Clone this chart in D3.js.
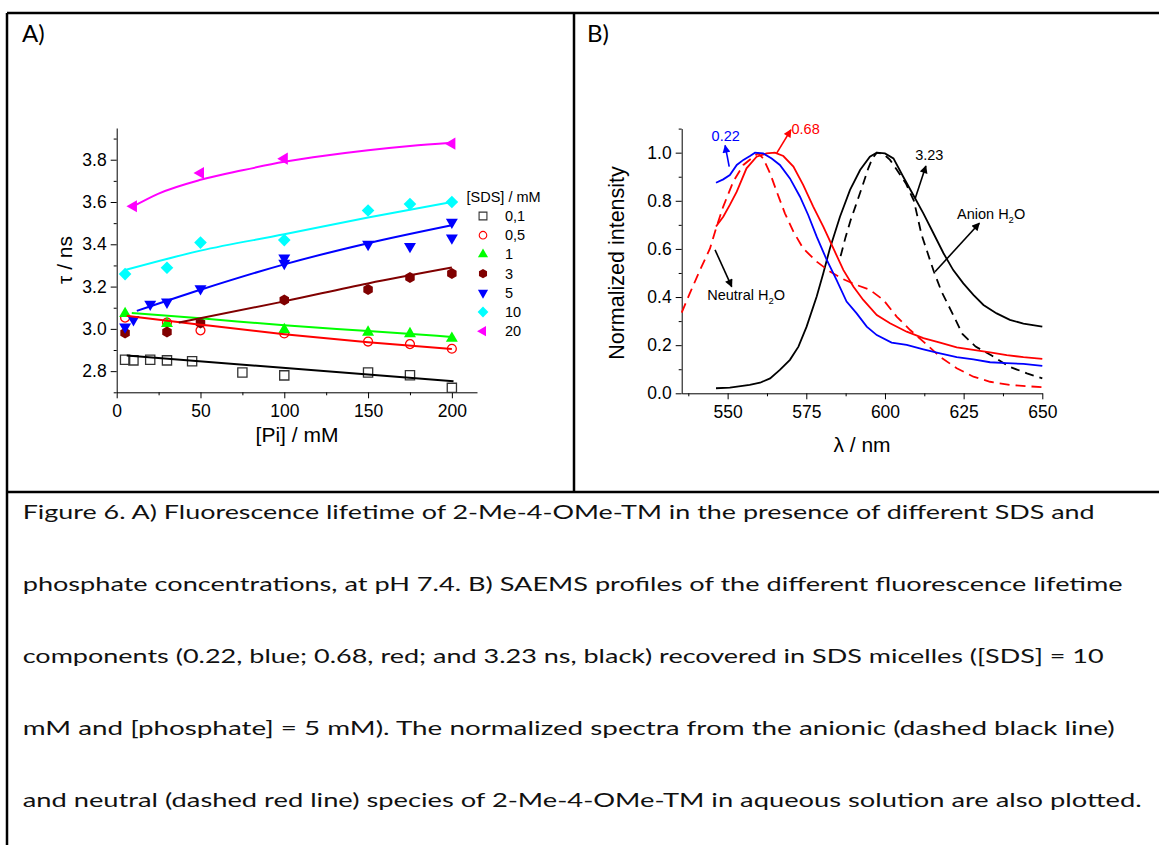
<!DOCTYPE html>
<html>
<head>
<meta charset="utf-8">
<script src="https://cdn.jsdelivr.net/npm/d3@7/dist/d3.min.js"></script>
<style>
  body { margin: 0; background: #fff; }
  svg { display: block; }
</style>
</head>
<body>
<svg id="fig" width="1159" height="845"></svg>
<script>
// ---------- panel A : lifetime vs [Pi] ----------
const sdsLabels = ["0,1", "0,5", "1", "3", "5", "10", "20"];

const pi01 = [5, 10, 20, 30, 45, 75, 100, 150, 175, 200];
const tau01 = [2.854, 2.851, 2.854, 2.851, 2.847, 2.794, 2.780, 2.794, 2.781, 2.721];
const pi05 = [5, 30, 50, 100, 150, 175, 200];
const tau05 = [3.053, 3.03, 2.993, 2.978, 2.94, 2.928, 2.906];
const pi1 = [5, 30, 100, 150, 175, 200];
const tau1 = [3.072, 3.025, 2.996, 2.984, 2.977, 2.955];
const pi3 = [5, 30, 50, 100, 150, 175, 200];
const tau3 = [2.98, 2.985, 3.028, 3.137, 3.186, 3.243, 3.262];
const pi5 = [5, 10, 20, 30, 50, 100, 100, 150, 175, 200, 200];
const tau5 = [3.009, 3.044, 3.117, 3.127, 3.19, 3.335, 3.31, 3.40, 3.39, 3.505, 3.43];
const pi10 = [5, 30, 50, 100, 150, 175, 200];
const tau10 = [3.259, 3.289, 3.408, 3.42, 3.56, 3.59, 3.60];
const pi20 = [10, 50, 100, 200];
const tau20 = [3.58, 3.737, 3.805, 3.876];

// fitted curves
const fit01 = [[6, 2.874], [201, 2.752]];
const fit05 = [[6, 3.062], [50, 3.02], [100, 2.975], [150, 2.937], [200, 2.905]];
const fit1 = [[9, 3.075], [50, 3.05], [100, 3.017], [150, 2.99], [200, 2.962]];
const fit3 = [[37, 3.03], [100, 3.13], [150, 3.215], [200, 3.29]];
const fit5 = [[12, 3.085], [50, 3.185], [100, 3.305], [150, 3.405], [200, 3.49]];
const fit10 = [[5, 3.278], [50, 3.37], [100, 3.447], [150, 3.527], [200, 3.60]];
const fit20 = [[10, 3.58], [25, 3.64], [50, 3.705], [75, 3.75], [100, 3.79], [125, 3.82], [150, 3.845], [175, 3.865], [200, 3.88]];

const piTicks = [0, 50, 100, 150, 200];
const piMinor = [25, 75, 125, 175];
const tauTicks = [2.8, 3.0, 3.2, 3.4, 3.6, 3.8];
const tauMinor = [2.7, 2.9, 3.1, 3.3, 3.5, 3.7, 3.9];

// ---------- panel B : SAEMS spectra ----------
const spec022 = [[546.3, 0.875], [548.6, 0.889], [550.7, 0.907], [552.9, 0.949], [555, 0.97], [557.1, 0.986], [558.7, 1.0],
  [561.3, 0.997], [564, 0.976], [566.6, 0.949], [569.8, 0.893], [573, 0.817], [575.6, 0.741], [578.3, 0.651],
  [581.5, 0.554], [584.6, 0.471], [587.8, 0.381], [591, 0.332], [594.2, 0.277], [597.4, 0.242], [602.1, 0.211],
  [606.9, 0.201], [612.2, 0.183], [617.5, 0.166], [622.8, 0.15], [628.1, 0.141], [633.4, 0.129], [638.7, 0.125],
  [644, 0.122], [650, 0.114]];
const spec068 = [[546.3, 0.693], [548.6, 0.734], [550.7, 0.783], [552.9, 0.838], [556, 0.935], [559.2, 0.983], [562.4, 0.997],
  [565, 1.0], [567.7, 0.986], [570.9, 0.942], [574, 0.866], [577.2, 0.776], [580.4, 0.693], [583.6, 0.602],
  [586.8, 0.512], [590, 0.443], [593.1, 0.388], [597.4, 0.325], [601.6, 0.291], [606.9, 0.256], [612.2, 0.229],
  [617.5, 0.211], [622.8, 0.191], [628.1, 0.18], [633.4, 0.17], [638.7, 0.159], [644, 0.15], [650, 0.143]];
const spec323 = [[546.3, 0.021], [550.7, 0.024], [557, 0.035], [560.3, 0.044], [563.5, 0.062], [566.6, 0.097], [569.8, 0.139],
  [572.5, 0.194], [575.1, 0.277], [578.3, 0.402], [580.4, 0.499], [582.5, 0.602], [585.7, 0.734], [588.9, 0.845],
  [592.1, 0.928], [595.2, 0.983], [597.4, 1.0], [600, 0.997], [602.7, 0.976], [605.8, 0.9], [609, 0.824],
  [612.2, 0.748], [615.4, 0.665], [618.6, 0.582], [621.7, 0.512], [624.9, 0.457], [628.1, 0.409], [631.3, 0.367],
  [635.5, 0.332], [639.7, 0.305], [644, 0.29], [650, 0.277]];
const specAnion = [[585.9, 0.57], [587.5, 0.65], [589.1, 0.72], [590.7, 0.78], [592.8, 0.86], [594.7, 0.935], [596, 0.976],
  [597.4, 1.0], [599.5, 0.995], [601.6, 0.97], [603.7, 0.93], [606.6, 0.873], [609.2, 0.80], [611.6, 0.66],
  [615.5, 0.507], [618, 0.422], [621.7, 0.325], [624.6, 0.247], [628.8, 0.194], [633.9, 0.157], [639.5, 0.111],
  [645.1, 0.083], [650, 0.062]];
const specNeutral = [[535.4, 0.335], [538, 0.416], [541.2, 0.512], [544.4, 0.602], [546.5, 0.693], [548.6, 0.776],
  [551.8, 0.88], [555, 0.949], [558.2, 0.983], [559.7, 0.997], [561.3, 0.976], [563.5, 0.914], [565.6, 0.838],
  [568.2, 0.748], [570.9, 0.672], [574, 0.602], [578.3, 0.547], [582.5, 0.506], [586.8, 0.474], [591, 0.45],
  [595.2, 0.43], [599.5, 0.388], [603.7, 0.319], [608, 0.263], [612.2, 0.215], [617.5, 0.152], [622.8, 0.104],
  [628.1, 0.069], [633.4, 0.048], [639.7, 0.035], [650, 0.025]];

const wlTicks = [550, 575, 600, 625, 650];
const wlMinor = [537.5, 562.5, 587.5, 612.5, 637.5];
const intTicks = [0, 0.2, 0.4, 0.6, 0.8, 1.0];
const intMinor = [0.1, 0.3, 0.5, 0.7, 0.9, 1.1];

const captionLines = [
  "Figure 6. A) Fluorescence lifetime of 2-Me-4-OMe-TM in the presence of different SDS and",
  "phosphate concentrations, at pH 7.4. B) SAEMS profiles of the different fluorescence lifetime",
  "components (0.22, blue; 0.68, red; and 3.23 ns, black) recovered in SDS micelles ([SDS] = 10",
  "mM and [phosphate] = 5 mM). The normalized spectra from the anionic (dashed black line)",
  "and neutral (dashed red line) species of 2-Me-4-OMe-TM in aqueous solution are also plotted."
];
const captionWidths = [1072, 1100, 1081, 1092, 1119];

// ---------------------------------------------
const svg = d3.select("#fig");
const axisFont = "'Liberation Sans', Arial, sans-serif";
const textFont = "Lato, 'Open Sans', sans-serif";

// frame of the table
const frame = svg.append("g").attr("stroke", "#000").attr("stroke-width", 2.5);
frame.append("line").attr("x1", 7).attr("x2", 1159).attr("y1", 13).attr("y2", 13);
frame.append("line").attr("x1", 7).attr("x2", 7).attr("y1", 13).attr("y2", 845);
frame.append("line").attr("x1", 574).attr("x2", 574).attr("y1", 13).attr("y2", 492);
frame.append("line").attr("x1", 7).attr("x2", 1159).attr("y1", 492).attr("y2", 492);

svg.append("text").attr("x", 22).attr("y", 42).attr("font-family", textFont).attr("font-size", 24).text("A)");
svg.append("text").attr("x", 587).attr("y", 42).attr("font-family", textFont).attr("font-size", 24).text("B)");

const drawAxes = (x, y, xt, xm, yt, ym, yFmt) => {
  const bottom = y.range()[0], left = x.range()[0];
  svg.append("g").attr("transform", `translate(0,${bottom})`)
    .call(d3.axisBottom(x).tickValues(xm).tickSize(3).tickFormat("").tickSizeOuter(0))
    .call(g => g.select(".domain").remove());
  svg.append("g").attr("transform", `translate(${left},0)`)
    .call(d3.axisLeft(y).tickValues(ym).tickSize(3).tickFormat("").tickSizeOuter(0))
    .call(g => g.select(".domain").remove());
  svg.append("g").attr("transform", `translate(0,${bottom})`)
    .call(d3.axisBottom(x).tickValues(xt).tickSize(6).tickPadding(6).tickSizeOuter(0))
    .attr("font-size", 17.5).attr("font-family", axisFont);
  svg.append("g").attr("transform", `translate(${left},0)`)
    .call(d3.axisLeft(y).tickValues(yt).tickSize(6).tickPadding(4).tickSizeOuter(0).tickFormat(yFmt))
    .attr("font-size", 17.5).attr("font-family", axisFont);
};

// ---------- panel A ----------
const xA = d3.scaleLinear().domain([0, 215]).range([116.7, 477]);
const yA = d3.scaleLinear().domain([2.7, 3.95]).range([392.3, 128]);
drawAxes(xA, yA, piTicks, piMinor, tauTicks, tauMinor, d3.format(".1f"));

svg.append("text").attr("x", 297).attr("y", 442).attr("text-anchor", "middle")
  .attr("font-family", axisFont).attr("font-size", 21).text("[Pi] / mM");
svg.append("text").attr("transform", "translate(72,260) rotate(-90)").attr("text-anchor", "middle")
  .attr("font-family", axisFont).attr("font-size", 21).text("τ / ns");

const symbolHex = {
  draw(ctx, size) {
    const r = Math.sqrt(size * 2 / (3 * Math.sqrt(3)));
    for (let i = 0; i < 6; i++) {
      const a = Math.PI / 3 * i - Math.PI / 2;
      if (i === 0) ctx.moveTo(r * Math.cos(a), r * Math.sin(a));
      else ctx.lineTo(r * Math.cos(a), r * Math.sin(a));
    }
    ctx.closePath();
  }
};

const seriesA = [
  { x: pi01, y: tau01, fit: fit01, color: "#000000", type: d3.symbolSquare, size: 85, rot: 0, open: true },
  { x: pi05, y: tau05, fit: fit05, color: "#ff0000", type: d3.symbolCircle, size: 62, rot: 0, open: true },
  { x: pi1, y: tau1, fit: fit1, color: "#00ff00", type: d3.symbolTriangle, size: 62, rot: 0, open: false },
  { x: pi3, y: tau3, fit: fit3, color: "#800000", type: symbolHex, size: 78, rot: 0, open: false },
  { x: pi5, y: tau5, fit: fit5, color: "#0000ff", type: d3.symbolTriangle, size: 62, rot: 180, open: false },
  { x: pi10, y: tau10, fit: fit10, color: "#00ffff", type: d3.symbolSquare, size: 80, rot: 45, open: false },
  { x: pi20, y: tau20, fit: fit20, color: "#ff00ff", type: d3.symbolTriangle, size: 64, rot: -90, open: false }
];

const markerStyle = (sel, s) => sel
  .attr("d", d3.symbol().type(s.type).size(s.size))
  .attr("fill", s.open ? "none" : s.color)
  .attr("stroke", s.open ? (s.color === "#000000" ? "#333" : s.color) : "none")
  .attr("stroke-width", 1.3);

seriesA.forEach(s => {
  svg.append("g").selectAll("path")
    .data(s.x.map((v, i) => [v, s.y[i]]))
    .join("path")
    .call(markerStyle, s)
    .attr("transform", d => `translate(${xA(d[0])},${yA(d[1])}) rotate(${s.rot})`);
});

const lineA = d3.line().x(d => xA(d[0])).y(d => yA(d[1])).curve(d3.curveMonotoneX);
seriesA.forEach(s => {
  svg.append("path").attr("d", lineA(s.fit)).attr("fill", "none")
    .attr("stroke", s.color).attr("stroke-width", 2);
});

// legend
const legend = svg.append("g").attr("font-family", axisFont).attr("font-size", 14.5);
legend.append("text").attr("x", 466.5).attr("y", 202).text("[SDS] / mM");
seriesA.forEach((s, i) => {
  const cy = 216 + i * 19.2;
  legend.append("path").call(markerStyle, s)
    .attr("transform", `translate(483,${cy}) rotate(${s.rot}) scale(0.85)`);
  legend.append("text").attr("x", 505).attr("y", cy + 5).text(sdsLabels[i]);
});

// ---------- panel B ----------
const xB = d3.scaleLinear().domain([535.4, 650]).range([681.7, 1042.3]);
const yB = d3.scaleLinear().domain([0, 1.1]).range([393.3, 128.6]);
drawAxes(xB, yB, wlTicks, wlMinor, intTicks, intMinor, d3.format(".1f"));

svg.append("text").attr("x", 862).attr("y", 452).attr("text-anchor", "middle")
  .attr("font-family", axisFont).attr("font-size", 21).text("λ / nm");
svg.append("text").attr("transform", "translate(624,263) rotate(-90)").attr("text-anchor", "middle")
  .attr("font-family", axisFont).attr("font-size", 21.5).text("Normalized intensity");

const lineB = d3.line().x(d => xB(d[0])).y(d => yB(d[1]));
const spectra = [
  { data: spec323, color: "#000000", dash: null },
  { data: specAnion, color: "#000000", dash: "9,6" },
  { data: specNeutral, color: "#ff0000", dash: "10,6" },
  { data: spec068, color: "#ff0000", dash: null },
  { data: spec022, color: "#0000ff", dash: null }
];
spectra.forEach(s => {
  svg.append("path").attr("d", lineB(s.data)).attr("fill", "none")
    .attr("stroke", s.color).attr("stroke-width", 1.8)
    .attr("stroke-dasharray", s.dash);
});

// annotations with arrows (in data units of panel B)
const defs = svg.append("defs");
["#000000", "#ff0000", "#0000ff"].forEach((c, i) => {
  defs.append("marker").attr("id", "arr" + i)
    .attr("viewBox", "0 0 10 10").attr("refX", 9).attr("refY", 5)
    .attr("markerWidth", 9).attr("markerHeight", 8).attr("markerUnits", "userSpaceOnUse")
    .attr("orient", "auto")
    .append("path").attr("d", "M0,0 L10,5 L0,10 Z").attr("fill", c);
});

const arrows = [
  { from: [550.5, 0.942], to: [549.2, 1.03], m: 2, color: "#0000ff" },
  { from: [565.6, 0.998], to: [570.1, 1.095], m: 1, color: "#ff0000" },
  { from: [609.6, 0.81], to: [613.0, 0.945], m: 0, color: "#000000" },
  { from: [615.9, 0.505], to: [630.0, 0.707], m: 0, color: "#000000" },
  { from: [546.0, 0.596], to: [551.3, 0.443], m: 0, color: "#000000" }
];
arrows.forEach(a => {
  svg.append("line")
    .attr("x1", xB(a.from[0])).attr("y1", yB(a.from[1]))
    .attr("x2", xB(a.to[0])).attr("y2", yB(a.to[1]))
    .attr("stroke", a.color).attr("stroke-width", 1.6)
    .attr("marker-end", `url(#arr${a.m})`);
});

const note = (wl, v, color, main, sub, tail) => {
  const t = svg.append("text").attr("x", xB(wl)).attr("y", yB(v))
    .attr("font-family", axisFont).attr("font-size", 14.5).attr("fill", color);
  t.append("tspan").text(main);
  if (sub) {
    t.append("tspan").attr("font-size", 9.5).attr("dy", 4).text(sub);
    t.append("tspan").attr("dy", -4).text(tail);
  }
};
note(544.9, 1.05, "#0000ff", "0.22");
note(570.3, 1.078, "#ff0000", "0.68");
note(609.6, 0.97, "#000000", "3.23");
note(622.9, 0.723, "#000000", "Anion H", "2", "O");
note(543.5, 0.388, "#000000", "Neutral H", "2", "O");

// ---------- caption ----------
const cap = svg.append("g").attr("font-family", textFont).attr("font-size", 20).attr("fill", "#111");
captionLines.forEach((line, i) => {
  cap.append("text").attr("x", 22.7).attr("y", 519 + i * 72)
    .attr("textLength", captionWidths[i]).attr("lengthAdjust", "spacingAndGlyphs")
    .text(line);
});
</script>
</body>
</html>
